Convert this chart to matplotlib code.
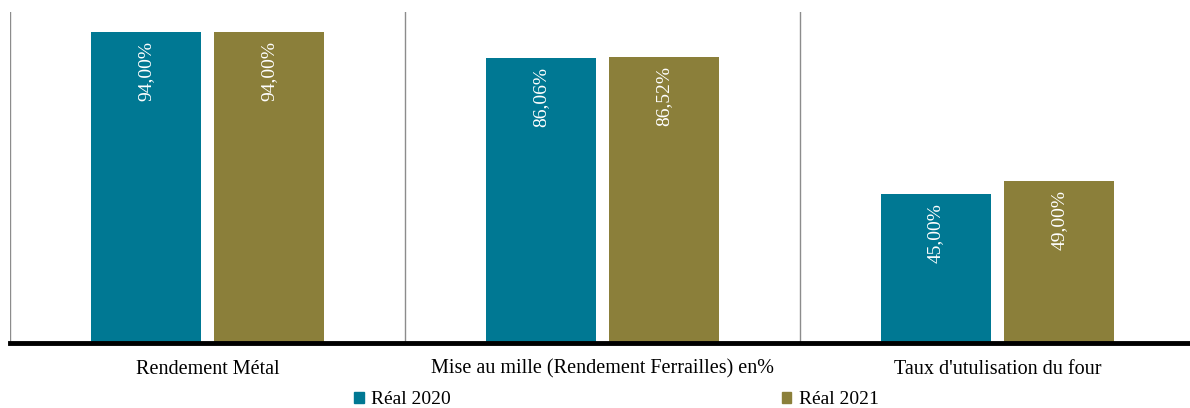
import matplotlib.pyplot as plt
import matplotlib.patches as mpatches
import numpy as np

categories = ['Rendement Métal', 'Mise au mille (Rendement Ferrailles) en%', "Taux d'utulisation du four"]
series_names = ['Réal 2020', 'Réal 2021']
real_2020 = [94.00, 86.06, 45.00]
real_2021 = [94.00, 86.52, 49.00]
colors = ['#007893', '#8b7f3a']

plt.rcParams['font.family'] = ['Liberation Serif', 'DejaVu Serif']

fig = plt.figure(figsize=(11.9, 4.08), dpi=100)
W, H = 1190.0, 408.0
ax = fig.add_axes((10 / W, (H - 343) / H, 1185 / W, 331 / H))

x = np.arange(len(categories))
bw = 0.278
off = 0.1565
for vals, dx, c, name in [(real_2020, -off, colors[0], series_names[0]),
                          (real_2021, off, colors[1], series_names[1])]:
    bars = ax.bar(x + dx, vals, width=bw, color=c, label=name, zorder=2)
    for b, v in zip(bars, vals):
        ax.text(b.get_x() + b.get_width() / 2, v - 2.7, ('%.2f%%' % v).replace('.', ','),
                rotation=90, ha='center', va='top', color='white', fontsize=14, zorder=3)

for xv in [-0.5, 0.5, 1.5, 2.5]:
    ax.axvline(xv, color='#8c8c8c', lw=1.0, zorder=1)

ax.set_xlim(-0.5, 2.5)
ax.set_ylim(0, 100)
for s in ['top', 'right', 'left']:
    ax.spines[s].set_visible(False)
ax.spines['bottom'].set_linewidth(3.5)
ax.spines['bottom'].set_color('black')
ax.set_yticks([])
ax.set_xticks(x)
ax.set_xticklabels(categories, fontsize=14.5)
ax.tick_params(axis='x', length=0, pad=12)

handles = [mpatches.Patch(color=c) for c in colors]
fig.legend(handles, series_names, loc='center', bbox_to_anchor=(0.518, 8 / H), ncol=2,
           frameon=False, fontsize=14, handlelength=0.5, handleheight=0.5,
           handletextpad=0.4, columnspacing=17.0, borderpad=0.2)

fig.savefig('out.png', dpi=100)
